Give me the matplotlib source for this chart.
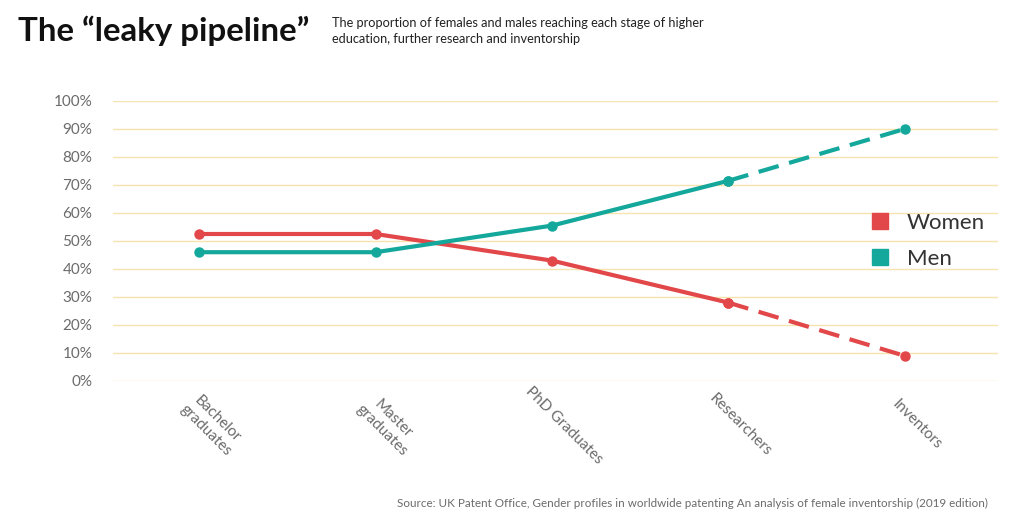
import matplotlib
matplotlib.use("Agg")
import matplotlib.pyplot as plt
import matplotlib.transforms as mtransforms
from matplotlib.ticker import FuncFormatter

# data
stages = ["Bachelor\ngraduates", "Master\ngraduates", "PhD Graduates", "Researchers", "Inventors"]
women = [52.5, 52.5, 43, 28, 9]
men = [46, 46, 55.5, 71.5, 90]
yticks = [0, 10, 20, 30, 40, 50, 60, 70, 80, 90, 100]

RED = "#e2474a"
TEAL = "#13a89b"
GRID = "#f6e3ad"
GREY = "#6b6b6b"

plt.rcParams["font.family"] = ["Lato", "DejaVu Sans"]

fig = plt.figure(figsize=(10.15, 5.23), dpi=100)
ax = fig.add_axes([113 / 1015, 1 - 381 / 523, (998 - 113) / 1015, (381 - 101) / 523])

x = list(range(len(stages)))
solid_n = 4  # first four points joined by solid line, last segment dashed

for vals, col in [(women, RED), (men, TEAL)]:
    ax.plot(x[:solid_n], vals[:solid_n], color=col, lw=3, solid_capstyle="round",
            marker="o", ms=6.5, clip_on=False, zorder=3)
    ax.plot(x[solid_n - 1:], vals[solid_n - 1:], color=col, lw=3, dashes=(5, 2.6),
            dash_capstyle="butt", marker="o", ms=6.5, clip_on=False, zorder=3)

ax.set_xlim(-0.49, 4.53)
ax.set_ylim(0, 100)
ax.set_yticks(yticks)
ax.yaxis.set_major_formatter(FuncFormatter(lambda v, p: f"{v:.0f}%"))
ax.tick_params(axis="y", length=0, pad=15, labelsize=11, labelcolor=GREY)
ax.grid(axis="y", color=GRID, lw=1)
ax.set_axisbelow(True)
for s in ax.spines.values():
    s.set_visible(False)
ax.set_xticks(x)
ax.set_xticklabels([])
ax.tick_params(axis="x", length=0)

# rotated category labels
off = mtransforms.offset_copy(ax.get_xaxis_transform(), fig=fig, x=12, y=-44, units="dots")
for i, lab in enumerate(stages):
    ax.text(i, 0, lab, transform=off, rotation=-45, rotation_mode="anchor",
            ha="center", va="center", multialignment="center",
            fontsize=11, color=GREY)

# legend
ax.plot([], [], ls="none", marker="s", ms=12, color=RED, label="Women")
ax.plot([], [], ls="none", marker="s", ms=12, color=TEAL, label="Men")
lg = ax.legend(loc="center left", bbox_to_anchor=(847 / 1015, 1 - 241 / 523),
               bbox_transform=fig.transFigure, frameon=False, fontsize=16,
               handletextpad=0.6, labelspacing=0.7, handlelength=1.2)
for t in lg.get_texts():
    t.set_color("#333333")

fig.text(18 / 1015, 1 - 31 / 523, "The \u201cleaky pipeline\u201d", fontsize=23.8,
         fontweight="bold", color="#111111", va="center", ha="left")
fig.text(332 / 1015, 1 - 31 / 523,
         "The proportion of females and males reaching each stage of higher\n"
         "education, further research and inventorship",
         fontsize=9.2, color="#222222", va="center", ha="left", linespacing=1.35)
fig.text(988 / 1015, 1 - 503 / 523,
         "Source: UK Patent Office, Gender profiles in worldwide patenting An analysis "
         "of female inventorship (2019 edition)",
         fontsize=8.4, color=GREY, va="center", ha="right")

fig.savefig("out.png", dpi=100)
